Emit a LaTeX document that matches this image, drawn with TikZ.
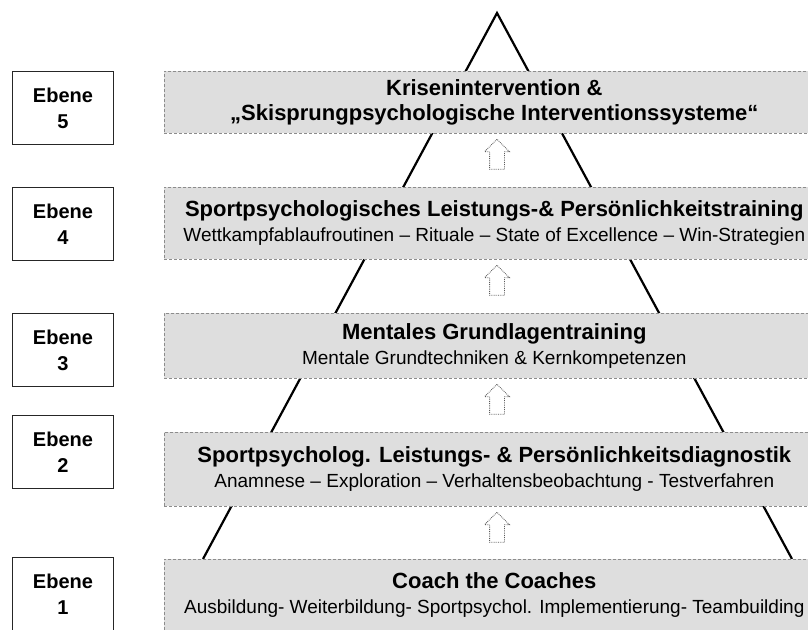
\documentclass[tikz,border=0pt]{standalone}
\usepackage{fontspec}
\setmainfont{Liberation Sans}
\usetikzlibrary{shapes.arrows}
\begin{document}
\begin{tikzpicture}[x=1pt, y=-1pt,
  lvl/.style={draw=black!45, densely dashed, line width=0.6pt, fill=black!13, anchor=north west,
    minimum width=660pt, align=center, inner sep=0pt, font=\fontsize{19}{25}\selectfont},
  eb/.style={draw=black!85, line width=0.9pt, anchor=north west, minimum width=101pt,
    minimum height=73pt, align=center, font=\fontsize{20}{26}\selectfont\bfseries},
  up/.style={shape=single arrow, rotate=90, draw=black!65, densely dotted, line width=0.8pt, fill=white,
    minimum height=30pt, single arrow head extend=5pt, inner xsep=0pt, inner ysep=7pt}]
  \useasboundingbox (0,0) rectangle (808,629);
  \clip (0,0) rectangle (808,629);
  % pyramid
  \coordinate (top) at (497,13);
  \coordinate (bl) at (203,559);
  \coordinate (br) at (792,559);
  \draw[line width=2.2pt, line join=miter] (bl) -- (top) -- (br);
  % levels
  \node[lvl, minimum height=62pt] (k5) at (164,71) {\fontsize{22}{25}\selectfont\bfseries Krisenintervention \&\\
    \fontsize{22}{25}\selectfont\bfseries „Skisprungpsychologische Interventionssysteme“};
  \node[lvl, minimum height=72pt] (k4) at (164,187) {\fontsize{22}{25}\selectfont\bfseries Sportpsychologisches Leistungs-\& Persönlichkeitstraining\\
    Wettkampfablaufroutinen – Rituale – State of Excellence – Win-Strategien};
  \node[lvl, minimum height=65pt] (k3) at (164,313) {\fontsize{22}{25}\selectfont\bfseries Mentales Grundlagentraining\\
    Mentale Grundtechniken \& Kernkompetenzen};
  \node[lvl, minimum height=74pt] (k2) at (164,432) {\fontsize{22}{25}\selectfont\bfseries Sportpsycholog. Leistungs- \& Persönlichkeitsdiagnostik\\
    Anamnese – Exploration – Verhaltensbeobachtung - Testverfahren};
  \node[lvl, minimum height=72pt] (k1) at (164,559) {\fontsize{22}{25}\selectfont\bfseries Coach the Coaches\\
    Ausbildung- Weiterbildung- Sportpsychol. Implementierung- Teambuilding};
  % ebene labels
  \node[eb] (e5) at (12,71) {Ebene\\5};
  \node[eb] (e4) at (12,187) {Ebene\\4};
  \node[eb] (e3) at (12,313) {Ebene\\3};
  \node[eb] (e2) at (12,415) {Ebene\\2};
  \node[eb] (e1) at (12,557) {Ebene\\1};
  % arrows
  \node[up] (a54) at (497,158) {};
  \node[up] (a43) at (497,284) {};
  \node[up] (a32) at (497,403) {};
  \node[up] (a21) at (497,531) {};
\end{tikzpicture}
\end{document}
